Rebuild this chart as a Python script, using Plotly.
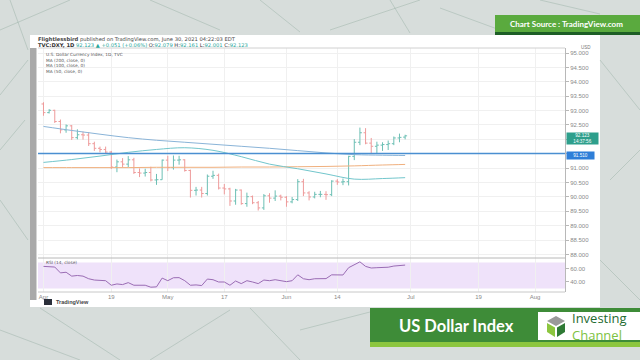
import plotly.graph_objects as go
import pandas as pd

# ---------------- data ----------------
dates = pd.bdate_range("2021-04-01", "2021-06-30").strftime("%Y-%m-%d").tolist()

opens = [93.23,92.93,93.01,92.62,92.33,92.47,92.06,92.16,92.15,91.85,91.69,91.65,91.56,91.04,91.22,91.14,
         91.29,90.85,90.83,90.85,90.59,90.60,91.28,91.02,91.28,91.29,90.92,90.23,90.24,90.12,90.72,90.75,
         90.31,90.28,89.86,90.24,89.77,90.01,89.80,89.62,90.04,89.96,90.03,89.99,89.83,89.91,90.53,90.14,
         90.00,90.09,90.09,90.08,90.55,90.52,90.53,91.41,91.90,92.23,91.87,91.76,91.80,91.82,91.85,92.05,92.079]
highs = [93.29,93.05,93.03,92.69,92.52,92.50,92.35,92.27,92.25,91.92,91.75,91.75,91.60,91.30,91.35,91.42,
         91.36,90.99,90.98,91.05,90.80,91.30,91.43,91.44,91.43,91.31,90.95,90.35,90.35,90.78,90.91,90.81,
         90.45,90.32,90.28,90.26,90.15,90.05,89.86,90.10,90.13,90.23,90.08,90.03,90.00,90.62,90.63,90.20,
         90.18,90.21,90.20,90.58,90.62,90.64,91.43,92.01,92.41,92.39,92.05,91.92,91.90,91.96,92.10,92.20,92.161]
lows = [92.82,92.90,92.57,92.21,92.23,91.98,92.00,91.99,91.77,91.60,91.55,91.51,90.97,90.86,91.04,91.03,
        90.80,90.69,90.71,90.54,90.42,90.60,90.90,90.95,91.12,90.88,89.98,90.05,89.98,90.05,90.63,90.26,
        90.09,89.69,89.73,89.73,89.66,89.75,89.53,89.55,89.80,89.86,89.88,89.66,89.78,89.86,90.03,89.88,
        89.95,89.99,89.90,90.03,90.42,90.41,90.40,91.28,91.80,91.83,91.51,91.52,91.60,91.63,91.80,91.90,92.001]
closes = [92.93,93.01,92.62,92.33,92.47,92.06,92.16,92.15,91.85,91.69,91.65,91.56,91.04,91.22,91.14,91.29,
          90.85,90.83,90.85,90.59,90.60,91.28,91.02,91.28,91.29,90.92,90.23,90.24,90.12,90.72,90.75,90.31,
          90.28,89.86,90.24,89.77,90.01,89.80,89.62,90.04,89.96,90.03,89.99,89.83,89.91,90.53,90.14,90.00,
          90.09,90.09,90.08,90.55,90.52,90.53,91.41,91.90,92.23,91.87,91.76,91.80,91.82,91.85,92.05,92.07,92.123]

rsi = [64,64,63,54,55,49,50,49,45,43,43,42,35,37,36,39,35,34.5,35,32,32.5,46,42,46.5,46.7,42,35,35.5,34.5,
       44.5,43.5,40,40,35,41.5,37.5,42,40,37.5,43,42,43.5,42.5,40.5,42,51,45,43.5,45,45.5,45.2,51,50.5,50.8,
       62,67,71,64,61.5,62,62.5,62.7,64.5,65,66]

ma_dates = ["2021-04-01","2021-04-08","2021-04-15","2021-04-22","2021-04-29","2021-05-06","2021-05-13",
            "2021-05-20","2021-05-27","2021-06-03","2021-06-10","2021-06-17","2021-06-24","2021-06-30"]
ma200 = [92.45,92.31,92.18,92.06,91.97,91.90,91.83,91.76,91.69,91.61,91.53,91.47,91.45,91.44]
ma100 = [91.02,91.02,91.02,91.02,91.03,91.03,91.03,91.04,91.04,91.05,91.06,91.08,91.11,91.13]
ma50 = [91.20,91.30,91.42,91.55,91.65,91.71,91.62,91.40,91.14,90.98,90.80,90.62,90.64,90.67]

hline_level = 91.51
last_price = 92.123

tick_dates = ["2021-04-01","2021-04-19","2021-05-03","2021-05-17","2021-06-01","2021-06-14",
              "2021-07-01","2021-07-19","2021-08-02"]
tick_text = ["Apr","19","May","17","Jun","14","Jul","19","Aug"]
price_ticks = [88.0,88.5,89.0,89.5,90.0,90.5,91.0,91.5,92.0,92.5,93.0,93.5,94.0,94.5,95.0]
price_labels = ["88.000","88.500","89.000","89.500","90.000","90.500","91.000","","","92.500",
                "93.000","93.500","94.000","94.500","95.000"]
rsi_ticks = [40, 60]

# ---------------- layout helpers (pixel -> paper) ----------------
L, R, T, B = 38, 565, 48, 292
W, H = R - L, B - T
def px(x): return (x - L) / W
def py(y): return (B - y) / H

FONT = "Liberation Sans"
WIDE = "DejaVu Sans"
fig = go.Figure()

fig.add_trace(go.Ohlc(x=dates, open=opens, high=highs, low=lows, close=closes,
                      increasing=dict(line=dict(color="#6cbfb4", width=1)),
                      decreasing=dict(line=dict(color="#ee9a9a", width=1)),
                      tickwidth=0.35, xaxis="x", yaxis="y", hoverinfo="skip", showlegend=False))
for vals, col in [(ma200, "#8ab4d8"), (ma100, "#f0b07e"), (ma50, "#72c6cc")]:
    fig.add_trace(go.Scatter(x=ma_dates, y=vals, mode="lines", line=dict(color=col, width=1),
                             line_shape="spline", xaxis="x", yaxis="y", hoverinfo="skip", showlegend=False))
fig.add_trace(go.Scatter(x=dates, y=rsi, mode="lines", line=dict(color="#9a6cb4", width=1),
                         xaxis="x2", yaxis="y2", hoverinfo="skip", showlegend=False))

xrange = ["2021-03-31 00:45", "2021-08-09 07:00"]
rb = [dict(bounds=["sat", "mon"])]
split = (B - 258) / H
common_x = dict(type="date", range=xrange, rangebreaks=rb, tickvals=tick_dates, ticktext=tick_text,
                showgrid=True, gridcolor="#f0f0f0", gridwidth=1, zeroline=False, showline=False,
                automargin=False)
fig.update_layout(
    width=640, height=360,
    margin=dict(l=L, r=640 - R, t=T, b=360 - B, autoexpand=False),
    paper_bgcolor="#d7dddb", plot_bgcolor="#ffffff",
    xaxis=dict(common_x, anchor="y", showticklabels=False, rangeslider=dict(visible=False)),
    xaxis2=dict(common_x, anchor="y2", matches="x", showticklabels=True,
                tickfont=dict(size=6, color="#8a8a8a", family=FONT), ticks="", ticklen=0),
    yaxis=dict(domain=[split, 1], range=[87.88, 95.174], side="right", tickvals=price_ticks,
               ticktext=price_labels, tickfont=dict(size=6, color="#8a8a8a", family=FONT),
               showgrid=True, gridcolor="#f0f0f0", zeroline=False, showline=True, linecolor="#b8b8b8",
               linewidth=1, ticks="outside", ticklen=3, tickcolor="#b8b8b8", automargin=False),
    yaxis2=dict(domain=[0, split], range=[24.6, 76.9], side="right", tickvals=rsi_ticks,
                tickformat=".2f", tickfont=dict(size=6, color="#8a8a8a", family=FONT),
                showgrid=False, zeroline=False, showline=True, linecolor="#b8b8b8", linewidth=1,
                ticks="outside", ticklen=3, tickcolor="#b8b8b8", automargin=False),
    showlegend=False,
)

shapes = []
# white screenshot panel and left gray strip
shapes.append(dict(type="rect", xref="paper", yref="paper", x0=px(30), x1=px(600), y0=py(307), y1=py(35),
                   fillcolor="#ffffff", line=dict(width=0), layer="below"))
shapes.append(dict(type="rect", xref="paper", yref="paper", x0=px(30), x1=px(36.5), y0=py(300), y1=py(48),
                   fillcolor="#a9a9a9", line=dict(width=0), layer="below"))
# network-like background lines
net = [((0, 30), (70, 0)), ((0, 95), (28, 60)), ((10, 0), (28, 50)), ((150, 0), (220, 30)),
       ((260, 0), (300, 32)), ((330, 30), (420, 0)), ((390, 0), (410, 33)), ((440, 8), (500, 30)),
       ((600, 60), (640, 110)), ((610, 180), (640, 150)), ((600, 260), (640, 300)),
       ((0, 330), (80, 360)), ((40, 308), (120, 360)), ((150, 360), (230, 310)), ((250, 308), (300, 360)),
       ((300, 330), (370, 312)), ((0, 200), (28, 240)), ((0, 150), (25, 120)), ((540, 0), (600, 14))]
for (a, b) in net:
    shapes.append(dict(type="line", xref="paper", yref="paper", x0=px(a[0]), y0=py(a[1]), x1=px(b[0]),
                       y1=py(b[1]), line=dict(color="rgba(150,175,165,0.45)", width=1), layer="below"))
# RSI band
shapes.append(dict(type="rect", xref="x2 domain", yref="y2", x0=0, x1=1, y0=30, y1=70,
                   fillcolor="#efe2fa", line=dict(width=0), layer="below"))
# pane separator & frame
shapes.append(dict(type="line", xref="paper", yref="paper", x0=0, x1=1, y0=split, y1=split,
                   line=dict(color="#b8b8b8", width=1)))
shapes.append(dict(type="line", xref="paper", yref="paper", x0=0, x1=1, y0=0, y1=0,
                   line=dict(color="#c8c8c8", width=1)))
shapes.append(dict(type="line", xref="paper", yref="paper", x0=0, x1=1, y0=1, y1=1,
                   line=dict(color="#d0d0d0", width=1)))
# horizontal level line
shapes.append(dict(type="line", xref="x domain", yref="y", x0=0, x1=1, y0=hline_level, y1=hline_level,
                   line=dict(color="#4a8fd1", width=1.5)))
# top-right banner
shapes.append(dict(type="rect", xref="paper", yref="paper", x0=px(495), x1=px(640), y0=py(32), y1=py(15),
                   fillcolor="#5aaa3e", line=dict(width=0)))
shapes.append(dict(type="rect", xref="paper", yref="paper", x0=px(495), x1=px(640), y0=py(35), y1=py(32),
                   fillcolor="#1d5e26", line=dict(width=0)))
# bottom banner
shapes.append(dict(type="rect", xref="paper", yref="paper", x0=px(370), x1=px(640), y0=py(342), y1=py(308),
                   fillcolor="#3e8c38", line=dict(width=0)))
shapes.append(dict(type="rect", xref="paper", yref="paper", x0=px(370), x1=px(640), y0=py(347), y1=py(342),
                   fillcolor="#8cc63f", line=dict(width=0)))
shapes.append(dict(type="rect", xref="paper", yref="paper", x0=px(538), x1=px(640), y0=py(340), y1=py(312),
                   fillcolor="#ffffff", line=dict(width=0)))
# logo cube
def path(pts):
    return "M " + " L ".join(f"{px(x):.5f},{py(y):.5f}" for x, y in pts) + " Z"
cx, cy = 556, 326
shapes.append(dict(type="path", xref="paper", yref="paper",
                   path=path([(cx, cy - 10), (cx + 9, cy - 5), (cx, cy), (cx - 9, cy - 5)]),
                   fillcolor="#9a9a9a", line=dict(width=0)))
shapes.append(dict(type="path", xref="paper", yref="paper",
                   path=path([(cx - 9, cy - 3), (cx - 1, cy + 1.5), (cx - 1, cy + 11), (cx - 9, cy + 6)]),
                   fillcolor="#8cc63f", line=dict(width=0)))
shapes.append(dict(type="path", xref="paper", yref="paper",
                   path=path([(cx + 9, cy - 3), (cx + 1, cy + 1.5), (cx + 1, cy + 11), (cx + 9, cy + 6)]),
                   fillcolor="#2f7a35", line=dict(width=0)))
# tradingview icon
shapes.append(dict(type="rect", xref="paper", yref="paper", x0=px(44), x1=px(52), y0=py(305), y1=py(299),
                   fillcolor="#2a2e39", line=dict(width=0)))
fig.update_layout(shapes=shapes)

ann = []
def text(x, y, s, size, color, xanchor="left", bg=None, family=FONT, yanchor="middle", align="left", **kw):
    d = dict(x=px(x), y=py(y), xref="paper", yref="paper", text=s, showarrow=False, xanchor=xanchor,
             yanchor=yanchor, font=dict(size=size, color=color, family=family), align=align)
    if bg:
        d.update(bgcolor=bg, borderpad=0)
    d.update(kw)
    ann.append(d)

text(36, 39.8, "<b>Flightlessbird</b> published on TradingView.com, June 30, 2021 04:22:03 EDT", 5.2, "#444",
     family=WIDE)
teal = "#26a69a"
text(36, 45.3, f"<b>TVC:DXY, 1D</b> <span style='color:{teal}'>92.123 ▲ +0.051 (+0.06%)</span> "
     f"O:<span style='color:{teal}'>92.079</span> H:<span style='color:{teal}'>92.161</span> "
     f"L:<span style='color:{teal}'>92.001</span> C:<span style='color:{teal}'>92.123</span>", 5.2, "#333",
     family=WIDE)
text(44, 49.5, "U.S. Dollar Currency Index, 1D, TVC<br>MA (200, close, 0)<br>MA (100, close, 0)"
     "<br>MA (50, close, 0)", 4.3, "#555", family=WIDE, yanchor="top")
text(44, 262, "RSI (14, close)", 4.3, "#555", family=WIDE)
text(579, 47.5, "USD", 4.5, "#777")
text(565.5, 138, "92.123<br>14:37:56", 4.6, "#ffffff", bg="#2e9f8c", width=31, height=10.5, align="center")
text(565.5, 155, "91.510", 4.6, "#ffffff", bg="#2f7fd8", width=27, height=6.5, align="center")
text(54, 302, "<b>TradingView</b>", 5.5, "#444")
text(566, 24, "<b>Chart Source : TradingView.com</b>", 8, "#ffffff", xanchor="center", family="Lato")
text(456, 326, "<b>US Dollar Index</b>", 16.5, "#ffffff", xanchor="center", family="Lato")
text(570, 326.5, "<span style='color:#1f6b30'>Investing</span><br><span style='color:#7dc242'>Channel</span>",
     13, "#1f6b30", family="Open Sans")
fig.update_layout(annotations=ann)

fig.write_html("out.html", config={"displayModeBar": False},
               post_script="document.body.style.margin='0';document.body.style.padding='0';")
